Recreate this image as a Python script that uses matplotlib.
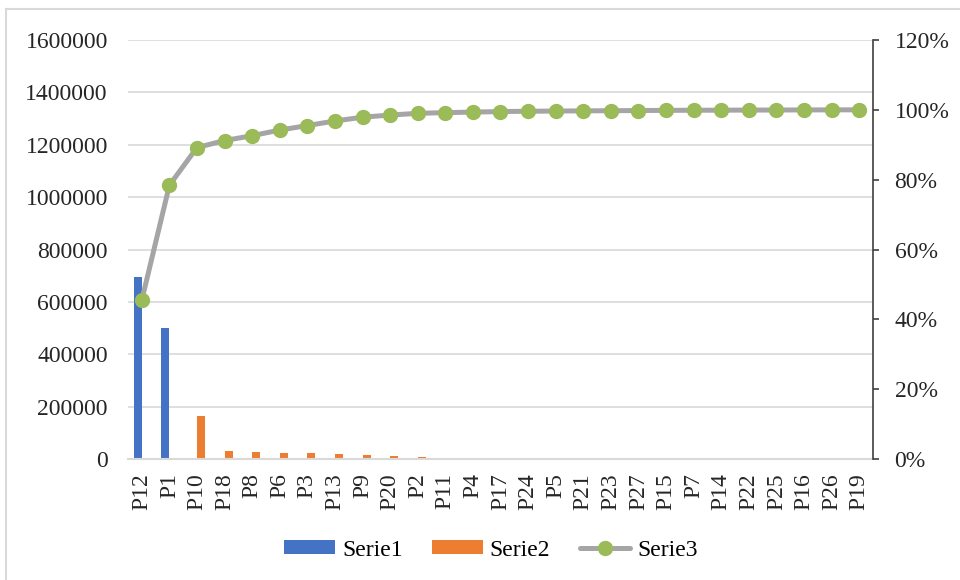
import matplotlib.pyplot as plt
import numpy as np
from matplotlib.lines import Line2D
from matplotlib.patches import Patch

plt.rcParams['font.family'] = ['Liberation Serif', 'DejaVu Serif']

categories = ['P12', 'P1', 'P10', 'P18', 'P8', 'P6', 'P3', 'P13', 'P9', 'P20',
              'P2', 'P11', 'P4', 'P17', 'P24', 'P5', 'P21', 'P23', 'P27', 'P15',
              'P7', 'P14', 'P22', 'P25', 'P16', 'P26', 'P19']

# Serie1: the two largest contributors
serie1 = [695000, 500000] + [0] * 25
# Serie2: remaining contributors
serie2 = [0, 0, 165000, 30500, 28000, 24000, 21500, 18000, 15000, 11000,
          7000, 3000, 2300, 2000, 1600, 1000, 900, 800, 700, 700,
          500, 400, 400, 300, 300, 200, 150]
# Serie3: cumulative share (%)
serie3 = [45.5, 78.4, 89.2, 91.2, 92.6, 94.2, 95.5, 96.8, 97.9, 98.5,
          99.0, 99.2, 99.35, 99.5, 99.6, 99.65, 99.7, 99.75, 99.8, 99.85,
          99.88, 99.9, 99.93, 99.95, 99.97, 99.99, 100.0]

left_ticks = [0, 200000, 400000, 600000, 800000, 1000000, 1200000, 1400000, 1600000]
right_ticks = [0, 20, 40, 60, 80, 100, 120]

blue = '#4472C4'
orange = '#ED7D31'
gray_line = '#A5A5A5'
green = '#9BBB59'
grid = '#D9D9D9'
fs = 17
lw = 3.6
ms = 10

fig = plt.figure(figsize=(9.6, 5.8), dpi=100)
ax = fig.add_axes([128 / 960, 1 - 459 / 580, 745 / 960, 419 / 580])
ax2 = ax.twinx()

x = np.arange(len(categories))
bw = 0.29
ax.bar(x - bw / 2, serie1, width=bw, color=blue, zorder=2)
ax.bar(x + bw / 2, serie2, width=bw, color=orange, zorder=2)

ax.set_xlim(-0.5, len(categories) - 0.5)
ax.set_ylim(0, 1600000)
ax.set_yticks(left_ticks)
ax.set_yticklabels([str(v) for v in left_ticks], fontsize=fs, color='#262626')
ax.set_xticks(x)
ax.set_xticklabels(categories, rotation=90, fontsize=fs, color='#262626')
ax.tick_params(axis='y', length=0, pad=14.5)
ax.tick_params(axis='x', length=0, pad=10)
ax.grid(axis='y', color=grid, linewidth=1.2, zorder=0)
ax.set_axisbelow(True)
for side in ['left', 'right', 'top']:
    ax.spines[side].set_visible(False)
ax.spines['bottom'].set_color(grid)
ax.spines['bottom'].set_linewidth(1.5)

ax2.plot(x, serie3, color=gray_line, linewidth=lw, marker='o', markersize=ms,
         markerfacecolor=green, markeredgecolor=green, zorder=3,
         solid_capstyle='round')
ax2.set_ylim(0, 120)
ax2.set_yticks(right_ticks)
ax2.set_yticklabels([f'{v}%' for v in right_ticks], fontsize=fs, color='#262626')
ax2.tick_params(axis='y', length=4.5, width=1.2, color='#404040', pad=11)
for side in ['left', 'top', 'bottom']:
    ax2.spines[side].set_visible(False)
ax2.spines['right'].set_color('#404040')
ax2.spines['right'].set_linewidth(1.2)

handles = [
    Patch(facecolor=blue, edgecolor='none'),
    Patch(facecolor=orange, edgecolor='none'),
    Line2D([0], [0], color=gray_line, linewidth=lw, marker='o', markersize=ms,
           markerfacecolor=green, markeredgecolor=green, solid_capstyle='round'),
]
fig.legend(handles, ['Serie1', 'Serie2', 'Serie3'], loc='center',
           bbox_to_anchor=(491 / 960, 1 - 550 / 580), ncol=3, frameon=False,
           fontsize=fs, handlelength=2.15, handleheight=0.5, columnspacing=1.24,
           handletextpad=0.3)

# chart frame
fig.add_artist(Line2D([6 / 960, 6 / 960], [0, 1 - 9 / 580], color=grid,
                      linewidth=1.5, transform=fig.transFigure))
fig.add_artist(Line2D([6 / 960, 1], [1 - 9 / 580, 1 - 9 / 580], color=grid,
                      linewidth=1.5, transform=fig.transFigure))

fig.savefig('out.png', dpi=100, facecolor='white')
